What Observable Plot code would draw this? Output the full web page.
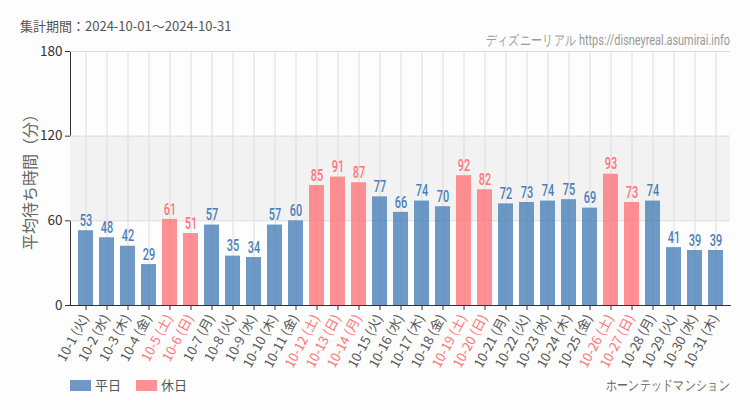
<!DOCTYPE html>
<html><head><meta charset="utf-8">
<script src="https://cdn.jsdelivr.net/npm/d3@7"></script>
<script src="https://cdn.jsdelivr.net/npm/@observablehq/plot@0.6"></script>
<style>
html,body{margin:0;padding:0;background:#fcfdfc;}
#chart{width:750px;height:410px;}
</style>
</head><body><div id="chart"></div>
<script>
const dates = ["10-1","10-2","10-3","10-4","10-5","10-6","10-7","10-8","10-9","10-10","10-11","10-12","10-13","10-14","10-15","10-16","10-17","10-18","10-19","10-20","10-21","10-22","10-23","10-24","10-25","10-26","10-27","10-28","10-29","10-30","10-31"];
const weekdays = ["火","水","木","金","土","日","月","火","水","木","金","土","日","月","火","水","木","金","土","日","月","火","水","木","金","土","日","月","火","水","木"];
const values = [53,48,42,29,61,51,57,35,34,57,60,85,91,87,77,66,74,70,92,82,72,73,74,75,69,93,73,74,41,39,39];
const dayTypes = ["平日","平日","平日","平日","休日","休日","平日","平日","平日","平日","平日","休日","休日","休日","平日","平日","平日","平日","休日","休日","平日","平日","平日","平日","平日","休日","休日","平日","平日","平日","平日"];
const typeNames = ["平日","休日"];
const typeColors = ["#4a7fb8","#ff7479"];
const yTicks = [0,60,120,180];
const band = [60,120];
const subtitle = "集計期間：2024-10-01～2024-10-31";
const source = "ディズニーリアル https://disneyreal.asumirai.info";
const attraction = "ホーンテッドマンション";
const yTitle = "平均待ち時間（分）";

const data = dates.map((d,i)=>({label:`${d} (${weekdays[i]})`, value:values[i], type:dayTypes[i]}));
const labels = data.map(d=>d.label);
const cond = "'Roboto','DejaVu Sans',sans-serif";
const jp = "'Noto Sans CJK JP','Noto Sans',sans-serif";

const chart = Plot.plot({
  width:750, height:410,
  marginTop:51, marginBottom:105, marginLeft:70, marginRight:20,
  style:{background:"transparent", color:"#333", fontFamily:jp, fontSize:"13px", overflow:"visible"},
  x:{domain:labels, paddingInner:0.3, paddingOuter:0.15, tickSize:5, tickFormat:()=>"", line:true, label:null},
  y:{domain:[0,180], ticks:yTicks, tickSize:5, line:true, label:null, tickPadding:3},
  color:{domain:typeNames, range:typeColors},
  marks:[
    Plot.rect([{y1:band[0], y2:band[1]}], {y1:"y1", y2:"y2", fill:"#f1f2f1"}),
    Plot.gridX({stroke:"#dcdcdc", strokeOpacity:1}),
    Plot.ruleY(yTicks.filter(t=>t>0), {stroke:"#dcdcdc"}),
    Plot.barY(data, {x:"label", y:"value", fill:"type", fillOpacity:0.8}),
    Plot.text(data, {x:"label", y:"value", text:d=>String(d.value), fill:"type", dy:-10, fontSize:16, fontFamily:cond, fontWeight:500, className:"vlab"}),
    Plot.text(data, {x:"label", text:"label", frameAnchor:"bottom", rotate:-62, textAnchor:"end", dy:12, dx:3, fontSize:13, fill:d=>d.type==="休日"?"#ff7479":"#555"})
  ]
});
document.getElementById("chart").appendChild(chart);
const svg = d3.select(chart);
svg.selectAll("g.vlab text").each(function(){
  const t = d3.select(this);
  const tr = t.attr("transform") || "";
  t.attr("transform", tr + " scale(0.68,1)");
});
svg.selectAll("text").filter(function(){return this.closest("[aria-label='y-axis tick label']");}).attr("fill","#333").style("font-size","13.5px");
svg.append("text").attr("x",20).attr("y",31).attr("text-anchor","start").attr("fill","#555").style("font-family",jp).style("font-size","13px").text(subtitle);
svg.append("text").attr("transform","translate(730,45) scale(0.78,1)").attr("text-anchor","end").attr("fill","#999").style("font-family",cond).style("font-size","14px").text(source);
svg.append("text").attr("transform","translate(36,178) rotate(-90)").attr("text-anchor","middle").attr("fill","#666").style("font-family",jp).style("font-size","16px").text(yTitle);
svg.append("text").attr("transform","translate(730,390) scale(0.78,1)").attr("text-anchor","end").attr("fill","#666").style("font-family",cond).style("font-size","14px").text(attraction);
const lg = svg.append("g");
typeNames.forEach((t,i)=>{
  const x0 = 70 + i*66;
  lg.append("rect").attr("x",x0).attr("y",380).attr("width",21).attr("height",11).attr("fill",typeColors[i]).attr("fill-opacity",0.8);
  lg.append("text").attr("x",x0+25).attr("y",390).attr("text-anchor","start").attr("fill","#555").style("font-family",jp).style("font-size","13px").text(t);
});
</script>
</body></html>
